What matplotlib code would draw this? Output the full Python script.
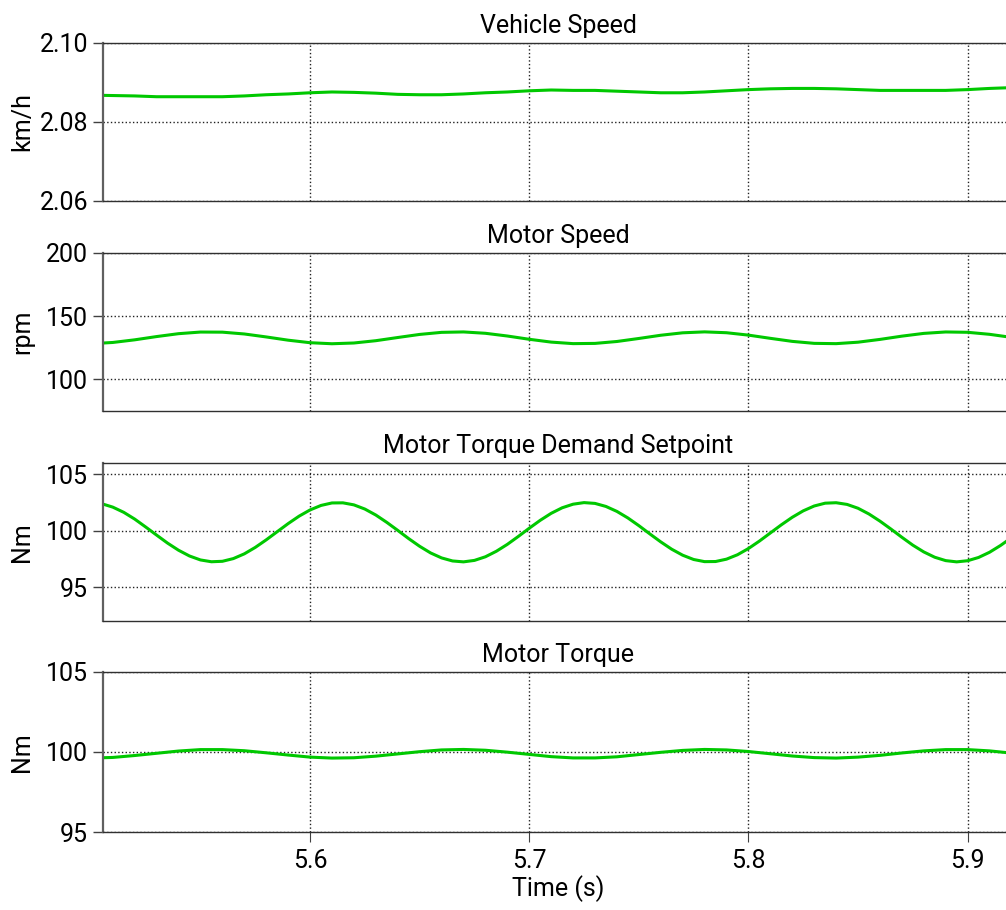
import numpy as np
import matplotlib
matplotlib.use('Agg')
import matplotlib.pyplot as plt

plt.rcParams['font.family'] = ['Roboto', 'DejaVu Sans']

# Time samples (s)
time_s = [5.50, 5.51, 5.52, 5.53, 5.54, 5.55, 5.56, 5.57, 5.58, 5.59,
          5.60, 5.61, 5.62, 5.63, 5.64, 5.65, 5.66, 5.67, 5.68, 5.69,
          5.70, 5.71, 5.72, 5.73, 5.74, 5.75, 5.76, 5.77, 5.78, 5.79,
          5.80, 5.81, 5.82, 5.83, 5.84, 5.85, 5.86, 5.87, 5.88, 5.89,
          5.90, 5.91, 5.92]

# finer time samples for the torque demand trace (s)
time_fine = [5.500, 5.505, 5.510, 5.515, 5.520, 5.525, 5.530, 5.535, 5.540, 5.545,
             5.550, 5.555, 5.560, 5.565, 5.570, 5.575, 5.580, 5.585, 5.590, 5.595,
             5.600, 5.605, 5.610, 5.615, 5.620, 5.625, 5.630, 5.635, 5.640, 5.645,
             5.650, 5.655, 5.660, 5.665, 5.670, 5.675, 5.680, 5.685, 5.690, 5.695,
             5.700, 5.705, 5.710, 5.715, 5.720, 5.725, 5.730, 5.735, 5.740, 5.745,
             5.750, 5.755, 5.760, 5.765, 5.770, 5.775, 5.780, 5.785, 5.790, 5.795,
             5.800, 5.805, 5.810, 5.815, 5.820, 5.825, 5.830, 5.835, 5.840, 5.845,
             5.850, 5.855, 5.860, 5.865, 5.870, 5.875, 5.880, 5.885, 5.890, 5.895,
             5.900, 5.905, 5.910, 5.915, 5.920]

# Vehicle speed (km/h)
vehicle_speed = [2.0868, 2.0867, 2.0866, 2.0864, 2.0864, 2.0864, 2.0864, 2.0866, 2.0869, 2.0871,
                 2.0874, 2.0876, 2.0875, 2.0873, 2.0870, 2.0869, 2.0869, 2.0871, 2.0874, 2.0876,
                 2.0879, 2.0881, 2.0880, 2.0880, 2.0878, 2.0876, 2.0874, 2.0874, 2.0876, 2.0879,
                 2.0882, 2.0884, 2.0885, 2.0885, 2.0884, 2.0882, 2.0880, 2.0880, 2.0880, 2.0880,
                 2.0882, 2.0885, 2.0887]

# Motor speed (rpm)
motor_speed = [128.23, 129.22, 131.31, 133.89, 136.17, 137.46, 137.37, 135.94, 133.59, 131.03,
               129.03, 128.21, 128.80, 130.62, 133.14, 135.58, 137.22, 137.55, 136.48, 134.33,
               131.74, 129.51, 128.30, 128.48, 129.99, 132.38, 134.93, 136.86, 137.60, 136.92,
               135.03, 132.49, 130.08, 128.52, 128.28, 129.44, 131.64, 134.22, 136.40, 137.53,
               137.26, 135.67, 133.25]

# Motor torque demand setpoint (Nm), on time_fine
torque_demand = [102.49, 102.39, 102.09, 101.63, 101.03, 100.33, 99.61, 98.90, 98.27, 97.76,
                 97.41, 97.25, 97.29, 97.53, 97.95, 98.52, 99.19, 99.91, 100.63, 101.29,
                 101.84, 102.24, 102.46, 102.47, 102.29, 101.92, 101.39, 100.74, 100.03, 99.30,
                 98.62, 98.03, 97.59, 97.32, 97.24, 97.37, 97.69, 98.18, 98.79, 99.49,
                 100.22, 100.92, 101.54, 102.03, 102.35, 102.49, 102.42, 102.15, 101.71, 101.13,
                 100.45, 99.72, 99.01, 98.36, 97.83, 97.45, 97.26, 97.27, 97.48, 97.87,
                 98.42, 99.08, 99.80, 100.52, 101.19, 101.76, 102.19, 102.44, 102.48, 102.33,
                 101.99, 101.48, 100.85, 100.15, 99.42, 98.72, 98.12, 97.65, 97.35, 97.24,
                 97.34, 97.63, 98.09, 98.69, 99.38]

# Motor torque (Nm)
motor_torque = [99.62, 99.66, 99.78, 99.92, 100.06, 100.15, 100.15, 100.08, 99.95, 99.81,
                99.68, 99.62, 99.64, 99.74, 99.88, 100.02, 100.13, 100.16, 100.11, 99.99,
                99.85, 99.71, 99.63, 99.63, 99.70, 99.84, 99.98, 100.10, 100.16, 100.13,
                100.03, 99.89, 99.75, 99.65, 99.62, 99.68, 99.79, 99.94, 100.07, 100.15,
                100.15, 100.07, 99.93]

titles = ['Vehicle Speed', 'Motor Speed', 'Motor Torque Demand Setpoint', 'Motor Torque']
units = ['km/h', 'rpm', 'Nm', 'Nm']
series = [(time_s, vehicle_speed), (time_s, motor_speed),
          (time_fine, torque_demand), (time_s, motor_torque)]
ylims = [(2.06, 2.10), (75, 200), (92, 106), (95, 105)]
yticks = [[2.06, 2.08, 2.10], [100, 150, 200], [95, 100, 105], [95, 100, 105]]
ytick_fmt = ['{:.2f}', '{:.0f}', '{:.0f}', '{:.0f}']
xticks = [5.6, 5.7, 5.8, 5.9]

W, H = 1006, 910
fig = plt.figure(figsize=(W / 100, H / 100), dpi=100)

# axes boxes in pixels: (top, bottom)
boxes = [(43, 201), (253, 411), (463, 621), (672, 832)]
left_px, right_px = 102.7, 1014.3

green = '#00c800'
fs = 18

for i, (top, bot) in enumerate(boxes):
    ax = fig.add_axes([left_px / W, 1 - bot / H, (right_px - left_px) / W, (bot - top) / H])
    tx, ty = series[i]
    ax.plot(tx, ty, color=green, lw=2.2, solid_capstyle='round')
    ax.set_xlim(5.5054, 5.9213)
    ax.set_ylim(*ylims[i])
    ax.set_yticks(yticks[i])
    ax.set_yticklabels([ytick_fmt[i].format(v) for v in yticks[i]])
    ax.set_xticks(xticks)
    ax.grid(True, linestyle=':', color='#222222', lw=1.0)
    ax.set_title(titles[i], fontsize=fs, pad=7.5)
    ax.set_ylabel(units[i], fontsize=fs)
    ax.yaxis.set_label_coords(-0.075, 0.5)
    ax.spines['right'].set_visible(False)
    for s in ['top', 'bottom']:
        ax.spines[s].set_color('#303030')
        ax.spines[s].set_linewidth(1.0)
    ax.spines['left'].set_color('#606060')
    ax.spines['left'].set_linewidth(1.6)
    ax.tick_params(axis='y', direction='out', length=7, width=1.0, color='#404040',
                   labelsize=fs, pad=3.5)
    if i < 3:
        ax.tick_params(axis='x', length=0, labelbottom=False)
    else:
        ax.tick_params(axis='x', direction='out', length=7, width=0.8, color='#404040',
                       labelsize=fs, pad=5)
        ax.set_xticklabels(['{:.1f}'.format(v) for v in xticks])
        ax.set_xlabel('Time (s)', fontsize=fs, labelpad=2)

fig.savefig('out.png', dpi=100)
